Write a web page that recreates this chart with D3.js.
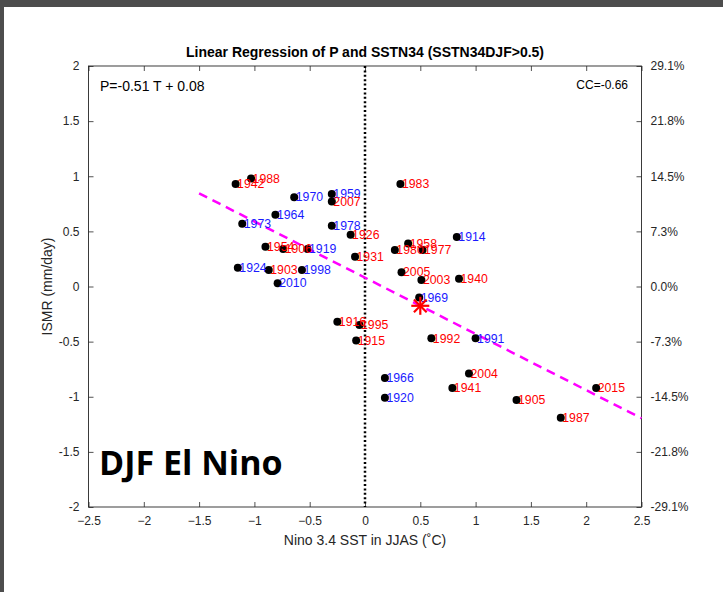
<!DOCTYPE html>
<html>
<head>
<meta charset="utf-8">
<script src="https://cdn.jsdelivr.net/npm/d3@7"></script>
<style>
  html, body { margin: 0; padding: 0; background: #ffffff; }
  svg { display: block; }
  text { font-family: "Liberation Sans", Arial, Helvetica, sans-serif; }
</style>
</head>
<body>
<script>
// Nino 3.4 JJAS SST anomaly vs ISMR for years with DJF Nino 3.4 > 0.5
const years = ["1942","1988","1970","1959","2007","1983","1964","1973","1978","1926",
  "1914","1954","1906","1919","1931","1958","1980","1977","1924","1903",
  "1998","2010","2005","2003","1940","1969","1916","1995","1915","1992",
  "1991","1966","1920","2004","1941","1905","2015","1987"];
const sst = [-1.17,-1.03,-0.64,-0.30,-0.30,0.32,-0.81,-1.11,-0.30,-0.13,
  0.83,-0.90,-0.74,-0.52,-0.09,0.39,0.27,0.52,-1.15,-0.87,
  -0.57,-0.79,0.33,0.51,0.85,0.49,-0.25,-0.05,-0.08,0.60,
  1.00,0.18,0.18,0.94,0.79,1.37,2.09,1.77];
const ismr = [0.93,0.98,0.81,0.84,0.77,0.93,0.65,0.57,0.55,0.47,
  0.45,0.36,0.34,0.34,0.27,0.39,0.33,0.33,0.17,0.15,
  0.15,0.03,0.13,0.06,0.07,-0.10,-0.32,-0.35,-0.49,-0.47,
  -0.47,-0.83,-1.01,-0.79,-0.92,-1.03,-0.92,-1.19];
// label colour group: "r" = red, "b" = blue
const group = ["r","r","b","b","r","r","b","b","b","r",
  "b","r","r","b","r","r","r","r","b","r",
  "b","b","r","r","r","b","r","r","r","r",
  "b","b","b","r","r","r","r","r"];

const xTicks = [-2.5,-2,-1.5,-1,-0.5,0,0.5,1,1.5,2,2.5];
const yTicks = [-2,-1.5,-1,-0.5,0,0.5,1,1.5,2];
const yTickLabels = ["-2","-1.5","-1","-0.5","0","0.5","1","1.5","2"];
const pctTickLabels = ["-29.1%","-21.8%","-14.5%","-7.3%","0.0%","7.3%","14.5%","21.8%","29.1%"];

// regression P = slope*T + intercept, drawn from T=-1.5 to 2.5
const slope = -0.51, intercept = 0.08;
const fitRange = [-1.5, 2.5];
const meanPoint = [0.5, -0.175];

const W = 723, H = 592;
const plot = {left: 88.5, right: 641.5, top: 66, bottom: 507};
const axisColor = "#262626";

const svg = d3.select("body").append("svg").attr("width", W).attr("height", H);

// dark frame along the top and left edges
svg.append("rect").attr("x",0).attr("y",0).attr("width",W).attr("height",H).attr("fill","#ffffff");
svg.append("rect").attr("x",0).attr("y",0).attr("width",W).attr("height",7).attr("fill","#4d4d4d");
svg.append("rect").attr("x",0).attr("y",0).attr("width",4).attr("height",H).attr("fill","#4d4d4d");

const x = d3.scaleLinear().domain([-2.5,2.5]).range([plot.left, plot.right]);
const y = d3.scaleLinear().domain([-2,2]).range([plot.bottom, plot.top]);

function styleAxis(g) {
  g.selectAll(".domain").remove();
  g.selectAll(".tick line").attr("stroke", axisColor).attr("stroke-width", 0.8);
  g.selectAll(".tick text").attr("fill", axisColor).style("font-size","12px");
}

// bottom axis (ticks pointing inward)
svg.append("g").attr("transform",`translate(0,${plot.bottom})`)
  .call(d3.axisBottom(x).tickValues(xTicks).tickSizeInner(-5).tickSizeOuter(0).tickPadding(9)
    .tickFormat(d3.format("")))
  .call(styleAxis);
// top axis ticks
svg.append("g").attr("transform",`translate(0,${plot.top})`)
  .call(d3.axisTop(x).tickValues(xTicks).tickSizeInner(-5).tickSizeOuter(0).tickFormat(""))
  .call(styleAxis);
// left axis
svg.append("g").attr("transform",`translate(${plot.left},0)`)
  .call(d3.axisLeft(y).tickValues(yTicks).tickSizeInner(-5).tickSizeOuter(0).tickPadding(9)
    .tickFormat((d,i)=>yTickLabels[i]))
  .call(styleAxis);
// right axis with percentage labels
svg.append("g").attr("transform",`translate(${plot.right},0)`)
  .call(d3.axisRight(y).tickValues(yTicks).tickSizeInner(-5).tickSizeOuter(0).tickPadding(9)
    .tickFormat((d,i)=>pctTickLabels[i]))
  .call(styleAxis);

// plot box
svg.append("rect").attr("x",plot.left).attr("y",plot.top)
  .attr("width",plot.right-plot.left).attr("height",plot.bottom-plot.top)
  .attr("fill","none").attr("stroke",axisColor).attr("stroke-width",0.9);

// dotted zero line
svg.append("line").attr("x1",x(0)).attr("x2",x(0)).attr("y1",y(2)).attr("y2",y(-2))
  .attr("stroke","#000").attr("stroke-width",2.5).attr("stroke-dasharray","2,2.4");

// regression line
svg.append("line")
  .attr("x1",x(fitRange[0])).attr("y1",y(slope*fitRange[0]+intercept))
  .attr("x2",x(fitRange[1])).attr("y2",y(slope*fitRange[1]+intercept))
  .attr("stroke","#ff00ff").attr("stroke-width",2.5).attr("stroke-dasharray","9,6");

// points
const pts = years.map((yr,i)=>({yr, t: sst[i], p: ismr[i], g: group[i]}));
svg.append("g").selectAll("circle").data(pts).join("circle")
  .attr("cx",d=>x(d.t)).attr("cy",d=>y(d.p)).attr("r",4).attr("fill","#000");

// year labels
svg.append("g").selectAll("text").data(pts).join("text")
  .attr("x",d=>x(d.t)+1.5).attr("y",d=>y(d.p)+4.3)
  .attr("fill",d=>d.g==="r" ? "#ff0000" : "#1a1aff")
  .style("font-size","12.3px")
  .text(d=>d.yr);

// asterisk marker at the mean point
const ax = x(meanPoint[0]), ay = y(meanPoint[1]), ar = 9;
const ast = svg.append("g").attr("stroke","#ff0000").attr("stroke-width",2.2);
[0,45,90,135].forEach(a=>{
  const r = a*Math.PI/180;
  ast.append("line")
    .attr("x1",ax-ar*Math.cos(r)).attr("y1",ay-ar*Math.sin(r))
    .attr("x2",ax+ar*Math.cos(r)).attr("y2",ay+ar*Math.sin(r));
});

// title
svg.append("text").attr("x",(plot.left+plot.right)/2).attr("y",57)
  .attr("text-anchor","middle").attr("fill","#000")
  .style("font-size","14px").style("font-weight","bold")
  .text("Linear Regression of P and SSTN34 (SSTN34DJF>0.5)");

// equation and correlation
svg.append("text").attr("x",100).attr("y",91).attr("fill","#000")
  .style("font-size","14px").text("P=-0.51 T + 0.08");
svg.append("text").attr("x",628).attr("y",89).attr("text-anchor","end").attr("fill","#000")
  .style("font-size","12px").text("CC=-0.66");

// axis titles
svg.append("text").attr("x",(plot.left+plot.right)/2).attr("y",545)
  .attr("text-anchor","middle").attr("fill",axisColor).style("font-size","14px")
  .text("Nino 3.4 SST in JJAS (˚C)");
svg.append("text").attr("transform",`translate(52,${(plot.top+plot.bottom)/2}) rotate(-90)`)
  .attr("text-anchor","middle").attr("fill",axisColor).style("font-size","14px")
  .text("ISMR (mm/day)");

// season tag
svg.append("text").attr("x",99).attr("y",475).attr("fill","#000")
  .style("font-family","'Open Sans', 'Noto Sans', sans-serif")
  .style("font-size","34px").style("font-weight","bold")
  .text("DJF El Nino");
</script>
</body>
</html>
